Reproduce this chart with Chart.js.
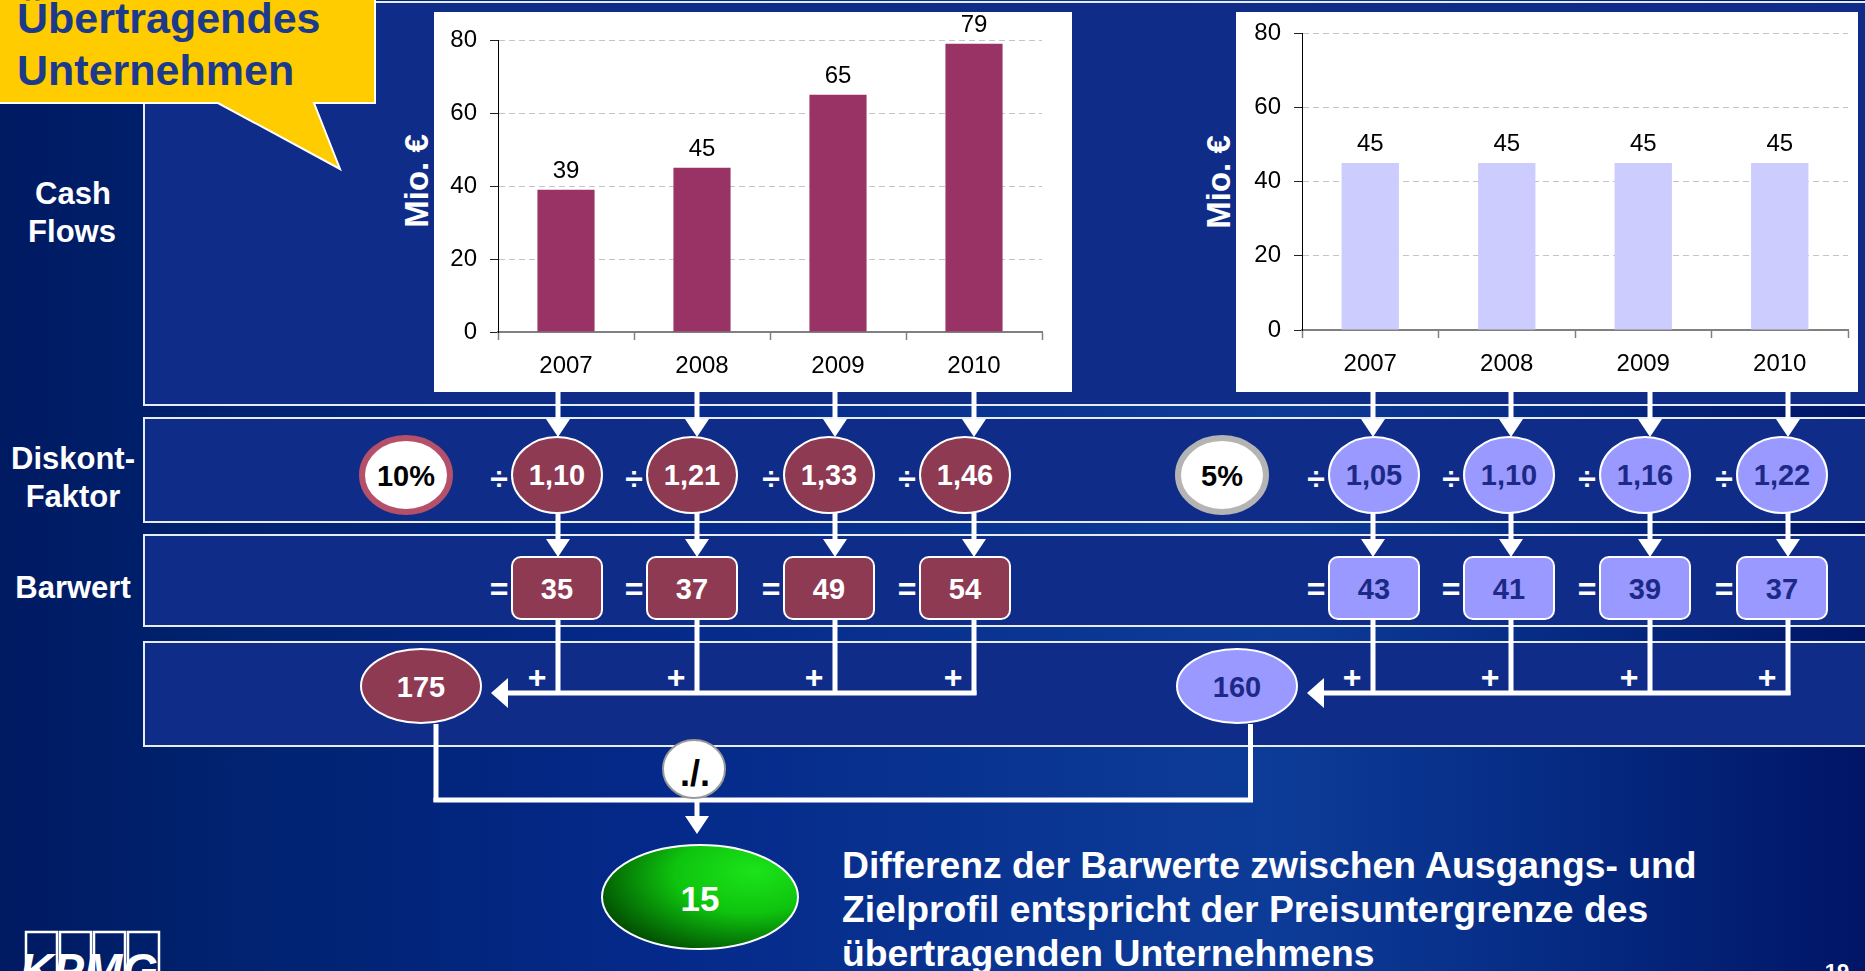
<!DOCTYPE html>
<html><head><meta charset="utf-8">
<script src="https://cdn.jsdelivr.net/npm/chart.js@4.4.1/dist/chart.umd.min.js"></script>
<style>
html,body{margin:0;padding:0;width:1865px;height:971px;overflow:hidden;}
body{position:relative;background:linear-gradient(90deg,#001a62 0%,#00226f 12%,#04298a 35%,#0a3592 55%,#0d3c98 68%,#062d86 82%,#001566 100%);}
#dia{position:absolute;left:0;top:0;}
.box{position:absolute;background:#fff;}
canvas{display:block;}
</style></head>
<body>
<svg id="dia" width="1865" height="971" xmlns="http://www.w3.org/2000/svg"></svg>
<div class="box" style="left:434px;top:12px;width:638px;height:380px"><canvas id="c1" width="638" height="380"></canvas></div>
<div class="box" style="left:1236px;top:12px;width:622px;height:380px"><canvas id="c2" width="622" height="380"></canvas></div>
<script>
// ---- data ----
const years = ['2007','2008','2009','2010'];
const cashFlowsAusgang = [39,45,65,79];
const cashFlowsZiel = [45,45,45,45];
const yTicks = [0,20,40,60,80];
const rateAusgang = '10%';
const rateZiel = '5%';
const factorsAusgang = ['1,10','1,21','1,33','1,46'];
const factorsZiel = ['1,05','1,10','1,16','1,22'];
const barwertAusgang = [35,37,49,54];
const barwertZiel = [43,41,39,37];
const summeAusgang = 175;
const summeZiel = 160;
const differenz = 15;
const calloutLines = ['Übertragendes','Unternehmen'];
const noteLines = ['Differenz der Barwerte zwischen Ausgangs- und','Zielprofil entspricht der Preisuntergrenze des','übertragenden Unternehmens'];
const axisTitle = 'Mio. €';

// ---- layout constants ----
const linesL = [558,697,835,974];      // connector lines
const shapesL = [557,692,829,965];     // ellipse / box centres
const linesR = [1373,1511,1650,1788];
const shapesR = [1374,1509,1645,1782];
const FONT = '"Liberation Sans", Arial, sans-serif';
const FONTC = "'Liberation Sans', Arial, sans-serif";
const MAROON = '#8f3a53', LAV = '#9999ff', NAVYTXT = '#1c2a85';

const NS = 'http://www.w3.org/2000/svg';
const svg = document.getElementById('dia');
function el(tag, attrs, text, parent){
  const e = document.createElementNS(NS, tag);
  for (const k in attrs) e.setAttribute(k, attrs[k]);
  if (text !== undefined) e.textContent = text;
  (parent || svg).appendChild(e);
  return e;
}
function txt(x, y, s, size, fill, extra){
  return el('text', Object.assign({x:x, y:y, 'font-size':size, 'font-weight':'bold', 'font-family':FONT, fill:fill, 'text-anchor':'middle'}, extra||{}), s);
}

// defs
const defs = el('defs', {});
const rg = el('radialGradient', {id:'green', cx:'0.72', cy:'0.3', r:'0.85', fx:'0.78', fy:'0.25'}, undefined, defs);
el('stop', {offset:'0', 'stop-color':'#1be41b'}, undefined, rg);
el('stop', {offset:'0.45', 'stop-color':'#0ec40e'}, undefined, rg);
el('stop', {offset:'1', 'stop-color':'#003f00'}, undefined, rg);

// panels
[[2,405],[418,522],[535,626],[642,746]].forEach(([t,b]) =>
  el('rect', {x:144, y:t, width:1740, height:b-t, fill:'#0f2d88', stroke:'#e6ecf4', 'stroke-width':2}));

// callout
el('path', {d:'M-3,-3 L375,-3 L375,103 L314,103 L340,169 L218,103 L-3,103 Z', fill:'#ffcc00', stroke:'#ffffff', 'stroke-width':2});
txt(17, 33, calloutLines[0], 43, '#1b3a8c', {'text-anchor':'start'});
txt(17, 85, calloutLines[1], 43, '#1b3a8c', {'text-anchor':'start'});

// row labels
txt(73, 204, 'Cash', 31, '#fff');
txt(72, 242, 'Flows', 31, '#fff');
txt(73, 469, 'Diskont-', 31, '#fff');
txt(73, 507, 'Faktor', 31, '#fff');
txt(73, 598, 'Barwert', 31, '#fff');

// axis titles
txt(0, 0, axisTitle, 33, '#fff', {transform:'translate(428,181) rotate(-90)'});
txt(0, 0, axisTitle, 33, '#fff', {transform:'translate(1230,182) rotate(-90)'});

function arrowDown(x, y0, yTip){
  el('rect', {x:x-2.5, y:y0, width:5, height:yTip-y0-14, fill:'#fff'});
  el('polygon', {points:`${x-12},${yTip-18} ${x+12},${yTip-18} ${x},${yTip}`, fill:'#fff'});
}

function side(lines, shapes, rate, rateX, rateStroke, factors, values, sum, sumX, fill, tcol, tipX, opOff){
  el('ellipse', {cx:rateX, cy:475, rx:44, ry:37, fill:'#fff', stroke:rateStroke, 'stroke-width':6});
  txt(rateX, 486, rate, 29, '#000');
  el('rect', {x:tipX+14, y:690.5, width:lines[3]+2.5-(tipX+14), height:5, fill:'#fff'});
  el('polygon', {points:`${tipX+17},${678} ${tipX+17},${708} ${tipX},${693}`, fill:'#fff'});
  lines.forEach((x, i) => {
    const sx = shapes[i];
    arrowDown(x, 392, 437);
    arrowDown(x, 513, 557);
    el('rect', {x:x-2.5, y:618, width:5, height:77, fill:'#fff'});
    el('ellipse', {cx:sx, cy:475, rx:45, ry:38, fill:fill, stroke:'#fff', 'stroke-width':2});
    txt(sx, 485, factors[i], 29, tcol);
    el('rect', {x:sx-45, y:557, width:90, height:62, rx:9, ry:9, fill:fill, stroke:'#fff', 'stroke-width':2});
    txt(sx, 599, String(values[i]), 29, tcol);
    txt(sx-opOff, 490, '÷', 32, '#fff');
    txt(sx-opOff, 600, '=', 32, '#fff');
    txt(x-21, 688, '+', 32, '#fff');
  });
  el('ellipse', {cx:sumX, cy:686, rx:60, ry:37, fill:fill, stroke:'#fff', 'stroke-width':2});
  txt(sumX, 697, String(sum), 29, tcol);
}
side(linesL, shapesL, rateAusgang, 406, '#b5506a', factorsAusgang, barwertAusgang, summeAusgang, 421, MAROON, '#fff', 491, 58);
side(linesR, shapesR, rateZiel, 1222, '#b4b4b4', factorsZiel, barwertZiel, summeZiel, 1237, LAV, NAVYTXT, 1307, 58);

// difference connector
el('rect', {x:433.5, y:724, width:5, height:78, fill:'#fff'});
el('rect', {x:1248, y:724, width:5, height:78, fill:'#fff'});
el('rect', {x:433.5, y:797.5, width:819.5, height:5, fill:'#fff'});
el('ellipse', {cx:694, cy:769, rx:31, ry:29, fill:'#fff', stroke:'#9a9a9a', 'stroke-width':2});
txt(695, 786, './.', 36, '#000');
arrowDown(697, 802, 834);
el('ellipse', {cx:700, cy:897, rx:98, ry:52, fill:'url(#green)', stroke:'#fff', 'stroke-width':2});
txt(700, 911, String(differenz), 35, '#fff');

// note text
noteLines.forEach((s, i) => txt(842, 878 + i*44, s, 37.3, '#fff', {'text-anchor':'start'}));

// KPMG logo
for (let i = 0; i < 4; i++) el('rect', {x:26+34*i, y:932, width:31, height:45, fill:'none', stroke:'#fff', 'stroke-width':2.5});
txt(20, 986, 'KPMG', 46, '#fff', {'text-anchor':'start', 'font-style':'italic'});
// page number
txt(1837, 979, '19', 22, '#fff');

// ---- charts ----
const valueLabels = {
  id:'valueLabels',
  afterDatasetsDraw(chart){
    const ctx = chart.ctx;
    const meta = chart.getDatasetMeta(0);
    ctx.save();
    ctx.font = '24px ' + FONTC;
    ctx.fillStyle = '#000';
    ctx.textAlign = 'center';
    ctx.textBaseline = 'alphabetic';
    meta.data.forEach((b, i) => ctx.fillText(String(chart.data.datasets[0].data[i]), b.x, b.y - 12));
    ctx.restore();
  }
};

function zeroPad(s){ s.paddingTop = 0; s.paddingBottom = 0; s.paddingLeft = 0; s.paddingRight = 0; }

function makeChart(id, values, color, pad, yW, xH){
  return new Chart(document.getElementById(id), {
    type:'bar',
    data:{labels:years, datasets:[{data:values, backgroundColor:color, borderWidth:0, barPercentage:0.42, categoryPercentage:1}]},
    options:{
      responsive:false, animation:false, devicePixelRatio:1,
      layout:{padding:pad},
      plugins:{legend:{display:false}, tooltip:{enabled:false}},
      scales:{
        x:{
          grid:{offset:true, drawOnChartArea:false, drawTicks:true, tickLength:8, tickColor:'#808080', tickWidth:1.5},
          border:{display:true, color:'#808080', width:2},
          ticks:{color:'#000', font:{family:FONTC, size:24}, padding:12, maxRotation:0},
          afterFit:s => { s.height = xH; zeroPad(s); }
        },
        y:{
          min:yTicks[0], max:yTicks[yTicks.length-1],
          afterBuildTicks:s => { s.ticks = yTicks.map(v => ({value:v})); },
          ticks:{color:'#000', font:{family:FONTC, size:24}, padding:13},
          grid:{color:c => (c.tick && c.tick.value === 0) ? 'rgba(0,0,0,0)' : '#c4c4c4', tickColor:'#222', tickLength:8, lineWidth:1},
          border:{display:true, color:'#000', width:1, dash:[6,4]},
          afterFit:s => { s.width = yW; zeroPad(s); }
        }
      }
    },
    plugins:[valueLabels]
  });
}
makeChart('c1', cashFlowsAusgang, '#993366', {top:28, right:30, left:0, bottom:0}, 64, 60);
makeChart('c2', cashFlowsZiel, '#ccccff', {top:21, right:10, left:0, bottom:0}, 66, 62);
</script>
</body></html>
